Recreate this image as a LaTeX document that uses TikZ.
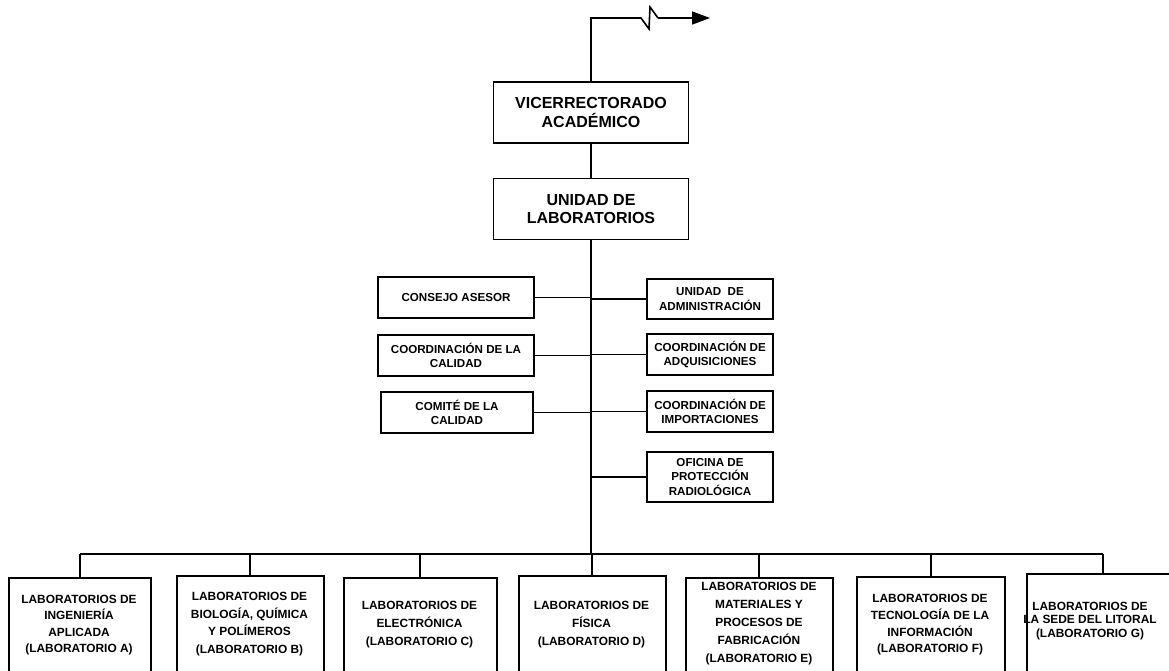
\documentclass[tikz,border=0pt]{standalone}
\usepackage{fontspec}
\setmainfont{Liberation Sans}
\usetikzlibrary{arrows.meta}
\begin{document}
\begin{tikzpicture}[x=1pt,y=-1pt, line width=1.5pt,
 box/.style={draw, line width=1.5pt, align=center, inner sep=0pt},
 topbox/.style={box, minimum width=195pt, minimum height=61pt, font=\fontsize{16}{18.8}\selectfont\bfseries},
 sidebox/.style={box, minimum height=41pt, font=\fontsize{11.6}{14.3}\selectfont\bfseries},
 labbox/.style={draw, line width=1.5pt, inner sep=0pt, anchor=north west, minimum height=130pt},
 labtext/.style={align=center, inner sep=0pt, font=\fontsize{11.9}{#1}\selectfont\bfseries},
 link/.style={line width=1.6pt}
]
\useasboundingbox (0,0) rectangle (1169,671);
\clip (0,0) rectangle (1169,671);

% top boxes
\node[topbox] (vice) at (591,112.5) {VICERRECTORADO\\ACADÉMICO};
\node[topbox] (unidad) at (591,209) {UNIDAD DE\\LABORATORIOS};

% top connector with break mark
\coordinate (t1) at (591,18);
\coordinate (z1) at (641,18);
\coordinate (z2) at (649,29);
\coordinate (z3) at (650,7);
\coordinate (z4) at (658,18);
\coordinate (tip) at (710,18);
\draw[link] (vice.north) -- (t1) -- (z1) -- (z2) -- (z3) -- (z4);
\draw[link, -{Triangle[length=18pt,width=13pt]}] (z4) -- (tip);

\draw[link] (vice.south) -- (unidad.north);

% bus
\coordinate (bus) at (591,554);
\draw[link] (unidad.south) -- (bus);

% side boxes left
\node[sidebox, minimum width=156pt] (consejo) at (456,297.5) {CONSEJO ASESOR};
\node[sidebox, minimum width=156pt] (coordcal) at (456,355.5) {COORDINACIÓN DE LA\\CALIDAD};
\node[sidebox, minimum width=152pt] (comite) at (457,412.5) {COMITÉ DE LA\\CALIDAD};
% side boxes right
\node[sidebox, minimum width=126pt, minimum height=40pt] (admin) at (710,299) {UNIDAD\ \ DE\\ADMINISTRACIÓN};
\node[sidebox, minimum width=126pt] (adq) at (710,354.5) {COORDINACIÓN DE\\ADQUISICIONES};
\node[sidebox, minimum width=126pt] (imp) at (710,411.5) {COORDINACIÓN DE\\IMPORTACIONES};
\node[sidebox, minimum width=126pt, minimum height=50pt] (ofi) at (710,477) {OFICINA DE\\PROTECCIÓN\\RADIOLÓGICA};

\foreach \n in {consejo,coordcal,comite}
  \draw[link] (\n.east) -- (\n.east -| bus);
\foreach \n in {admin,adq,imp,ofi}
  \draw[link] (\n.west) -- (\n.west -| bus);

% laboratory boxes
\node[labbox, minimum width=142pt] (labA) at (8,577) {};
\node[labbox, minimum width=147pt] (labB) at (176,575) {};
\node[labbox, minimum width=153pt] (labC) at (343,577) {};
\node[labbox, minimum width=147pt] (labD) at (518,575) {};
\node[labbox, minimum width=147pt] (labE) at (685,577) {};
\node[labbox, minimum width=148pt] (labF) at (856,576) {};
\node[labbox, minimum width=152pt] (labG) at (1026,573) {};

\node[labtext=16.2] (labAt) at (79,625) {LABORATORIOS DE\\INGENIERÍA\\APLICADA\\(LABORATORIO A)};
\node[labtext=17.8] (labBt) at (249.5,624) {LABORATORIOS DE\\BIOLOGÍA, QUÍMICA\\Y POLÍMEROS\\(LABORATORIO B)};
\node[labtext=18] (labCt) at (419.5,625) {LABORATORIOS DE\\ELECTRÓNICA\\(LABORATORIO C)};
\node[labtext=18] (labDt) at (591.5,625) {LABORATORIOS DE\\FÍSICA\\(LABORATORIO D)};
\node[labtext=18] (labEt) at (759,624) {LABORATORIOS DE\\MATERIALES Y\\PROCESOS DE\\FABRICACIÓN\\(LABORATORIO E)};
\node[labtext=16.7] (labFt) at (930,625) {LABORATORIOS DE\\TECNOLOGÍA DE LA\\INFORMACIÓN\\(LABORATORIO F)};
\node[labtext=13.5] (labGt) at (1090,621) {LABORATORIOS DE\\LA SEDE DEL LITORAL\\(LABORATORIO G)};

\draw[link] (labA.north |- bus) -- (labG.north |- bus);
\foreach \n in {labA,labB,labC,labD,labE,labF,labG}
  \draw[link] (\n.north) -- (\n.north |- bus);
\end{tikzpicture}
\end{document}
